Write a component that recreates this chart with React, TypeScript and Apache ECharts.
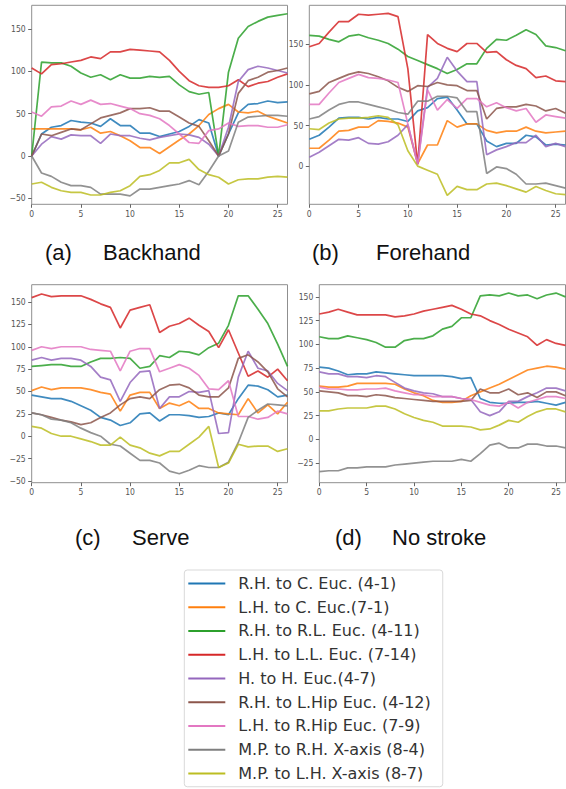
import React, { useEffect, useRef } from "react";
import * as echarts from "echarts";

const frames = [0, 1, 2, 3, 4, 5, 6, 7, 8, 9, 10, 11, 12, 13, 14, 15, 16, 17, 18, 19, 20, 21, 22, 23, 24, 25, 26];

const seriesNames = [
  "R.H. to C. Euc. (4-1)",
  "L.H. to C. Euc.(7-1)",
  "R.H. to R.L. Euc. (4-11)",
  "L.H. to L.L. Euc. (7-14)",
  "H. to H. Euc.(4-7)",
  "R.H. to L.Hip Euc. (4-12)",
  "L.H. to R.Hip Euc. (7-9)",
  "M.P. to R.H. X-axis (8-4)",
  "M.P. to L.H. X-axis (8-7)",
];
const seriesColors = ["#1f77b4", "#ff7f0e", "#2ca02c", "#d62728", "#9467bd", "#8c564b", "#e377c2", "#7f7f7f", "#bcbd22"];

// (a) Backhand
const backhandBlue = [0, 26, 34, 36, 42, 40, 39, 35, 44, 36, 36, 27, 27, 23, 26, 29, 35, 43, 39, 0, 26, 51, 61, 62, 65, 63, 64];
const backhandOrange = [32, 32, 32, 32, 32, 31, 34, 27, 29, 24, 18, 10, 10, 3, 11, 19, 26, 36, 49, 56, 61, 52, 51, 53, 47, 43, 39];
const backhandGreen = [0, 111, 110, 110, 106, 98, 93, 96, 90, 96, 92, 92, 94, 93, 94, 84, 76, 73, 75, 0, 99, 139, 153, 159, 164, 166, 168];
const backhandRed = [104, 97, 108, 109, 111, 113, 117, 115, 123, 123, 126, 125, 124, 123, 113, 100, 89, 83, 81, 81, 83, 90, 82, 86, 88, 93, 97];
const backhandPurple = [0, 14, 23, 20, 25, 24, 24, 15, 26, 24, 24, 21, 19, 22, 24, 26, 25, 22, 14, 0, 34, 88, 102, 106, 104, 101, 98];
const backhandBrown = [0, 26, 24, 28, 32, 31, 38, 45, 48, 51, 56, 56, 57, 53, 53, 46, 39, 35, 18, 0, 26, 74, 89, 93, 99, 101, 104];
const backhandPink = [52, 47, 58, 59, 65, 61, 66, 61, 62, 59, 56, 50, 48, 44, 36, 26, 16, 15, 30, 32, 39, 35, 36, 36, 34, 34, 37];
const backhandGray = [0, -20, -24, -31, -35, -35, -37, -45, -45, -45, -47, -39, -39, -37, -35, -33, -29, -34, -18, 0, 6, 40, 46, 47, 48, 48, 47];
const backhandOlive = [-33, -31, -37, -41, -43, -43, -46, -46, -43, -41, -35, -24, -22, -17, -8, -8, -4, -16, -22, -25, -33, -28, -27, -27, -25, -24, -25];

// (b) Forehand
const forehandBlue = [33, 38, 48, 59, 60, 60, 58, 60, 58, 58, 55, 68, 72, 83, 85, 69, 52, 52, 31, 24, 28, 28, 38, 36, 26, 27, 26];
const forehandOrange = [22, 22, 32, 43, 44, 48, 48, 56, 55, 53, 48, 3, 26, 26, 56, 48, 52, 52, 44, 41, 43, 43, 48, 43, 41, 42, 43];
const forehandGreen = [161, 160, 156, 153, 160, 162, 158, 155, 151, 144, 135, 130, 125, 120, 114, 119, 126, 126, 145, 156, 155, 161, 168, 162, 148, 146, 142];
const forehandRed = [147, 151, 165, 178, 178, 187, 186, 187, 188, 184, 120, 2, 162, 151, 145, 141, 151, 151, 140, 141, 131, 124, 120, 109, 111, 105, 104];
const forehandPurple = [11, 17, 25, 33, 32, 35, 28, 27, 30, 38, 51, 3, 97, 108, 134, 117, 104, 104, 14, 20, 24, 29, 29, 38, 24, 28, 24];
const forehandBrown = [89, 92, 103, 108, 113, 116, 114, 110, 105, 97, 92, 99, 98, 103, 100, 99, 93, 93, 58, 71, 73, 73, 76, 74, 68, 71, 65];
const forehandPink = [76, 76, 90, 103, 108, 113, 109, 108, 106, 103, 52, 2, 94, 69, 82, 71, 83, 83, 73, 78, 72, 68, 71, 54, 63, 61, 59];
const forehandGray = [58, 61, 69, 76, 79, 79, 76, 73, 70, 66, 64, 80, 80, 86, 86, 84, 67, 67, -9, -1, -3, -10, -22, -22, -21, -24, -27];
const forehandOlive = [46, 45, 53, 58, 59, 59, 60, 62, 60, 51, 19, 0, -5, -10, -36, -25, -29, -29, -22, -21, -24, -28, -32, -25, -30, -34, -35];

// (c) Serve
const serveBlue = [46, 44, 42, 42, 39, 34, 29, 21, 18, 12, 15, 25, 26, 17, 24, 24, 23, 21, 22, 26, 24, 42, 57, 56, 52, 44, 46];
const serveOrange = [51, 55, 52, 54, 54, 54, 52, 49, 47, 28, 46, 49, 49, 31, 37, 34, 39, 31, 31, 26, 25, 24, 42, 26, 35, 25, 38];
const serveGreen = [78, 79, 80, 80, 78, 78, 83, 87, 87, 88, 87, 76, 78, 90, 88, 95, 94, 91, 99, 104, 124, 157, 157, 142, 126, 103, 78];
const serveRed = [155, 159, 156, 157, 157, 157, 153, 148, 144, 121, 141, 144, 147, 116, 123, 126, 132, 124, 117, 99, 119, 93, 67, 73, 66, 75, 62];
const servePurple = [85, 88, 85, 87, 87, 85, 78, 66, 63, 39, 60, 72, 73, 31, 44, 44, 50, 49, 51, 3, 4, 66, 95, 76, 73, 59, 51];
const serveBrown = [26, 24, 21, 18, 16, 13, 15, 21, 26, 35, 42, 44, 42, 52, 57, 58, 54, 46, 44, 44, 54, 87, 91, 83, 72, 53, 44];
const servePink = [96, 100, 98, 100, 100, 100, 97, 96, 95, 73, 95, 98, 98, 72, 76, 80, 76, 68, 53, 52, 62, 22, 22, 19, 21, 28, 25];
const serveGray = [26, 24, 19, 18, 15, 9, 4, 0, -9, -11, -19, -27, -27, -30, -39, -42, -38, -33, -35, -35, -29, -7, 21, 29, 36, 35, 34];
const serveOlive = [11, 9, 3, 0, 0, -3, -6, -10, -10, -1, -10, -13, -19, -22, -17, -17, -9, -1, 11, -35, -30, -9, -12, -11, -11, -17, -14];

// (d) No stroke
const noStrokeBlue = [76, 75, 72, 68, 69, 69, 71, 70, 69, 68, 67, 67, 67, 67, 66, 64, 65, 43, 39, 38, 38, 39, 39, 40, 38, 36, 39];
const noStrokeOrange = [56, 55, 55, 56, 59, 59, 59, 59, 58, 53, 49, 46, 41, 39, 39, 40, 46, 50, 54, 58, 63, 68, 73, 75, 77, 76, 74];
const noStrokeGreen = [108, 106, 106, 109, 107, 105, 102, 97, 97, 104, 106, 106, 109, 116, 119, 128, 128, 151, 152, 151, 154, 151, 152, 148, 152, 154, 150];
const noStrokeRed = [132, 134, 137, 134, 131, 131, 131, 131, 129, 130, 132, 135, 137, 139, 141, 137, 132, 130, 125, 121, 116, 112, 108, 99, 105, 101, 99];
const noStrokePurple = [71, 69, 69, 66, 66, 65, 67, 66, 60, 54, 51, 49, 48, 45, 45, 43, 42, 29, 25, 29, 40, 40, 45, 49, 54, 54, 51];
const noStrokeBrown = [51, 50, 49, 46, 46, 45, 47, 46, 44, 43, 42, 41, 40, 40, 40, 40, 41, 53, 49, 49, 53, 47, 49, 44, 50, 50, 46];
const noStrokePink = [55, 53, 53, 52, 52, 53, 53, 54, 51, 49, 47, 47, 45, 45, 45, 43, 42, 39, 36, 35, 39, 33, 39, 42, 45, 45, 43];
const noStrokeGray = [-34, -33, -33, -30, -30, -29, -29, -29, -27, -26, -25, -24, -23, -23, -23, -21, -23, -15, -6, -4, -9, -9, -5, -5, -7, -7, -9];
const noStrokeOlive = [30, 30, 32, 33, 33, 33, 35, 35, 32, 27, 23, 20, 18, 14, 14, 14, 13, 10, 11, 15, 20, 18, 24, 29, 32, 32, 29];

const xTicks = [0, 5, 10, 15, 20, 25];
const yTicksA = [-50, 0, 50, 100, 150];
const yTicksB = [0, 50, 100, 150];
const yTicksC = [-50, -25, 0, 25, 50, 75, 100, 125, 150];
const yTicksD = [-25, 0, 25, 50, 75, 100, 125, 150];

const captionLetters = ["(a)", "(b)", "(c)", "(d)"];
const captionNames = ["Backhand", "Forehand", "Serve", "No stroke"];

const panels = [
  {
    data: [backhandBlue, backhandOrange, backhandGreen, backhandRed, backhandPurple, backhandBrown, backhandPink, backhandGray, backhandOlive],
    yTicks: yTicksA, yMin: -57, yMax: 178,
    grid: { left: 31.7, top: 5.3, width: 255.8, height: 199 },
    cap: { lx: 45, nx: 103, y: 252 },
  },
  {
    data: [forehandBlue, forehandOrange, forehandGreen, forehandRed, forehandPurple, forehandBrown, forehandPink, forehandGray, forehandOlive],
    yTicks: yTicksB, yMin: -47, yMax: 198,
    grid: { left: 309.3, top: 5.3, width: 256.2, height: 199 },
    cap: { lx: 312, nx: 376, y: 252 },
  },
  {
    data: [serveBlue, serveOrange, serveGreen, serveRed, servePurple, serveBrown, servePink, serveGray, serveOlive],
    yTicks: yTicksC, yMin: -52, yMax: 169.4,
    grid: { left: 31.7, top: 284.7, width: 255.8, height: 198 },
    cap: { lx: 75, nx: 132, y: 537 },
  },
  {
    data: [noStrokeBlue, noStrokeOrange, noStrokeGreen, noStrokeRed, noStrokePurple, noStrokeBrown, noStrokePink, noStrokeGray, noStrokeOlive],
    yTicks: yTicksD, yMin: -45.6, yMax: 162.8,
    grid: { left: 319.3, top: 284.7, width: 246.2, height: 198 },
    cap: { lx: 335, nx: 392, y: 537 },
  },
];

const tickFont = "'DejaVu Sans Condensed', 'Liberation Sans Narrow', 'DejaVu Sans', sans-serif";
const fmt = (v: number) => String(v).replace("-", "\u2212");

export default function App() {
  const ref = useRef<HTMLDivElement>(null);
  useEffect(() => {
    if (!ref.current) return;
    const chart = echarts.init(ref.current, undefined, { renderer: "svg" });

    const grids = panels.map((p) => ({
      ...p.grid,
      show: true,
      borderColor: "#8f8f8f",
      borderWidth: 1,
      backgroundColor: "#fff",
    }));
    const xAxes = panels.map((p, i) => ({
      type: "value",
      gridIndex: i,
      position: "bottom",
      min: 0,
      max: 26,
      axisLine: { show: false, onZero: false },
      splitLine: { show: false },
      axisTick: { show: true, customValues: xTicks, length: 3.5, lineStyle: { color: "#666" } },
      axisLabel: { customValues: xTicks, margin: 5, color: "#555", fontSize: 8.5, fontFamily: tickFont, formatter: fmt },
    }));
    const yAxes = panels.map((p, i) => ({
      type: "value",
      gridIndex: i,
      position: "left",
      min: p.yMin,
      max: p.yMax,
      axisLine: { show: false, onZero: false },
      splitLine: { show: false },
      axisTick: { show: true, customValues: p.yTicks, length: 3.5, lineStyle: { color: "#666" } },
      axisLabel: { customValues: p.yTicks, margin: 6, color: "#555", fontSize: 8.5, fontFamily: tickFont, formatter: fmt },
    }));
    const series: any[] = [];
    panels.forEach((p, pi) => {
      p.data.forEach((vals, si) => {
        series.push({
          type: "line",
          name: seriesNames[si],
          xAxisIndex: pi,
          yAxisIndex: pi,
          data: frames.map((f, k) => [f, vals[k]]),
          symbol: "none",
          silent: true,
          lineStyle: { width: 1.7, color: seriesColors[si], opacity: 0.85 },
          itemStyle: { color: seriesColors[si] },
        });
      });
    });

    const graphics: any[] = [];
    panels.forEach((p, i) => {
      graphics.push({
        type: "text",
        x: p.cap.lx,
        y: p.cap.y,
        style: { text: captionLetters[i], fontSize: 22, fontFamily: "'Liberation Sans', Arial, sans-serif", fill: "#111", align: "left", verticalAlign: "middle" },
      });
      graphics.push({
        type: "text",
        x: p.cap.nx,
        y: p.cap.y,
        style: { text: captionNames[i], fontSize: 22, fontFamily: "'Liberation Sans', Arial, sans-serif", fill: "#111", align: "left", verticalAlign: "middle" },
      });
    });

    chart.setOption({
      animation: false,
      backgroundColor: "#fff",
      color: seriesColors,
      grid: grids,
      xAxis: xAxes,
      yAxis: yAxes,
      series,
      graphic: graphics,
      legend: {
        data: seriesNames,
        orient: "vertical",
        left: 184.3,
        top: 570,
        padding: [1.5, 12, 1.5, 4],
        itemGap: 0,
        itemWidth: 37,
        itemHeight: 2,
        icon: "rect",
        borderColor: "#d9d9d9",
        borderWidth: 1,
        borderRadius: 3,
        backgroundColor: "#fff",
        selectedMode: false,
        textStyle: { fontSize: 16, lineHeight: 23.75, color: "#333", fontFamily: "'DejaVu Sans', sans-serif", padding: [0, 0, 0, 8] },
      },
    });
    return () => chart.dispose();
  }, []);
  return <div ref={ref} style={{ position: "absolute", left: 0, top: 0, width: 566, height: 789 }} />;
}
